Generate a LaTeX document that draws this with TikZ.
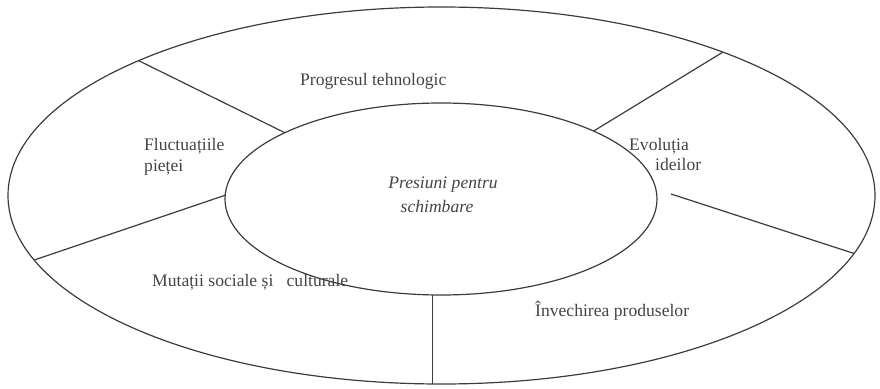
\documentclass[tikz,border=0pt]{standalone}
\usepackage{fontspec}
\setmainfont{Liberation Serif}
\usetikzlibrary{shapes.geometric}
\definecolor{ink}{HTML}{3C3C3C}
\definecolor{txt}{HTML}{444444}
\tikzset{
  ring/.style={ellipse, draw=ink, line width=1.2pt, inner sep=0pt, outer sep=0pt},
  divider/.style={draw=ink, line width=1.2pt},
  lbl/.style={text=txt, inner sep=0pt, anchor=base west,
    font=\fontsize{17.6}{21}\selectfont},
}
\begin{document}
\begin{tikzpicture}[x=1pt, y=-1pt]
  \useasboundingbox (0,0) rectangle (880,388);

  % outer and inner rings
  \node[ring, minimum width=867pt, minimum height=377pt] (outer) at (441.5,195.5) {};
  \node[ring, minimum width=432pt, minimum height=192pt] (inner) at (441,199) {};

  % radial dividers between the sectors
  \draw[divider] (inner.157.5) -- (outer.156.1);
  \draw[divider] (inner.24.5) -- (outer.27.9);
  \draw[divider] (inner.179) -- (outer.189.6);
  \coordinate (rstart) at (671,194);
  \draw[divider] (rstart) -- (outer.352.7);
  \draw[divider] (inner.265.5) -- (inner.265.5 |- outer.south);

  % sector labels
  \node[lbl] (tech) at (300,85) {Progresul tehnologic};
  \node[lbl] (fluct1) at (144,150) {Fluctuațiile};
  \node[lbl] (fluct2) at (144,171) {pieței};
  \node[lbl] (evol1) at (629,150) {Evoluția};
  \node[lbl] (evol2) at (655,170) {ideilor};
  \node[lbl] (mut) at (152,286) {Mutații sociale și\ \ \ culturale};
  \node[lbl] (inv) at (535,316) {Învechirea produselor};

  % centre label
  \node[lbl, anchor=base, font=\itshape\fontsize{17.6}{21}\selectfont] (pres1) at (443,188) {Presiuni pentru};
  \node[lbl, anchor=base, font=\itshape\fontsize{17.6}{21}\selectfont] (pres2) at (437,212) {schimbare};
\end{tikzpicture}
\end{document}
